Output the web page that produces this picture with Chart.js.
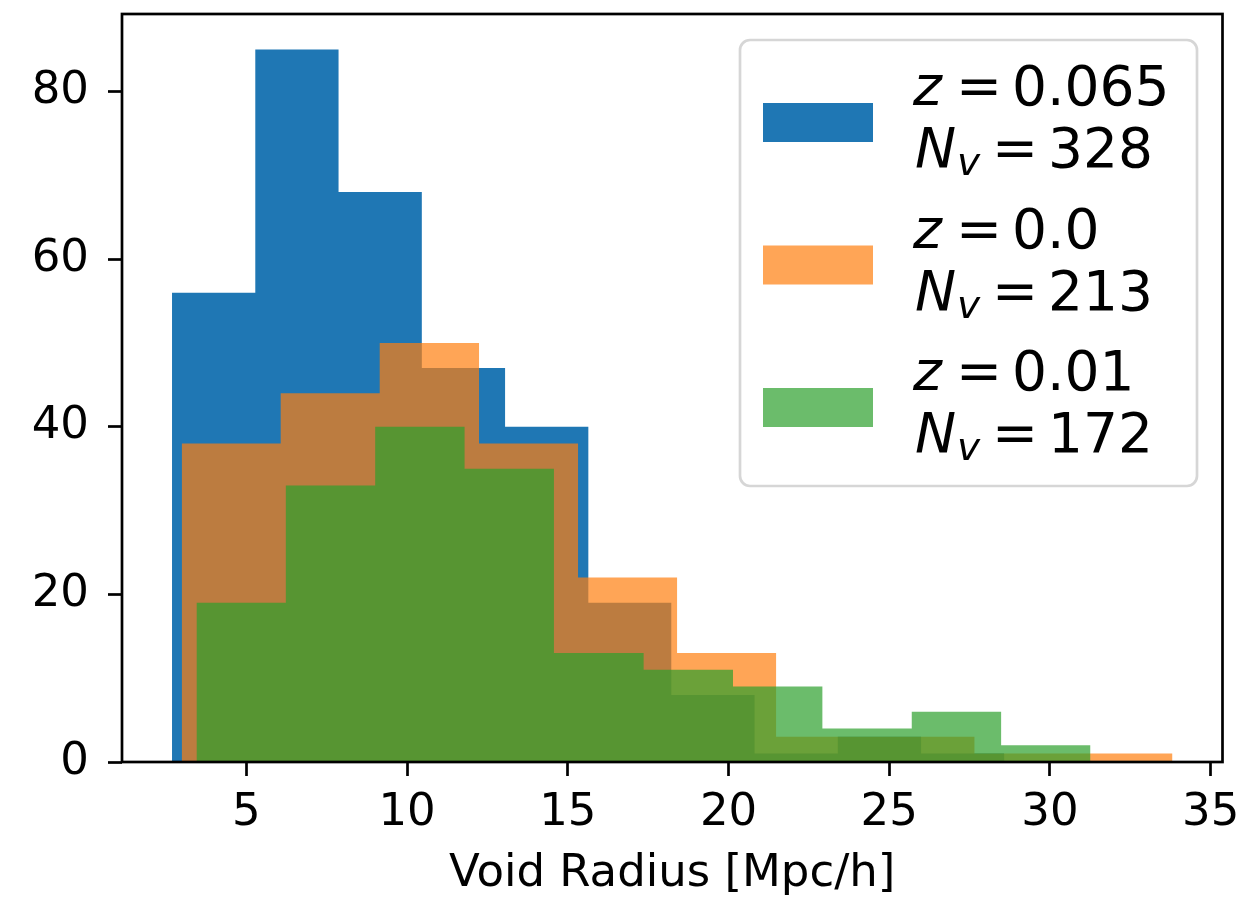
<!DOCTYPE html>
<html>
<head>
<meta charset="utf-8">
<script src="https://cdn.jsdelivr.net/npm/chart.js@4.4.1/dist/chart.umd.min.js"></script>
<style>
  html, body { margin: 0; padding: 0; background: #fff; }
  #wrap { width: 1246px; height: 905px; }
</style>
</head>
<body>
<div id="wrap"><canvas id="hist"></canvas></div>
<script>
// histogram bins (edges in Mpc/h, counts per bin)
const blueEdges = [2.69, 5.28, 7.87, 10.46, 13.05, 15.64, 18.22, 20.81, 23.40, 25.99, 28.58];
const blueCounts = [56, 85, 68, 47, 40, 19, 8, 1, 3, 1];

const orangeEdges = [2.99, 6.07, 9.15, 12.24, 15.32, 18.40, 21.48, 24.56, 27.65, 30.73, 33.81];
const orangeCounts = [38, 44, 50, 38, 22, 13, 3, 3, 1, 1];

const greenEdges = [3.45, 6.23, 9.01, 11.79, 14.57, 17.36, 20.14, 22.92, 25.70, 28.48, 31.26];
const greenCounts = [19, 33, 40, 35, 13, 11, 9, 4, 6, 2];

const xTicks = [5, 10, 15, 20, 25, 30, 35];
const yTicks = [0, 20, 40, 60, 80];

const legendZ = ["0.065", "0.0", "0.01"];
const legendN = ["328", "213", "172"];

const BLUE = "#1f77b4";
const ORANGE = "rgba(255,127,14,0.7)";
const GREEN = "rgba(44,160,44,0.7)";
const FONT = "'DejaVu Sans', sans-serif";

// turn edges + counts into a closed step outline
function steps(edges, counts) {
  const pts = [{ x: edges[0], y: 0 }];
  counts.forEach((c, i) => pts.push({ x: edges[i], y: c }));
  pts.push({ x: edges[edges.length - 1], y: counts[counts.length - 1] });
  pts.push({ x: edges[edges.length - 1], y: 0 });
  return pts;
}

// matplotlib style 5% margins on x, 5% headroom on y
const allEdges = blueEdges.concat(orangeEdges, greenEdges);
const lo = Math.min(...allEdges);
const hi = Math.max(...allEdges);
const xMin = lo - 0.05 * (hi - lo);
const xMax = hi + 0.05 * (hi - lo);
const yMax = 1.05 * Math.max(...blueCounts, ...orangeCounts, ...greenCounts);

function histSet(label, edges, counts, color, order) {
  return {
    label: label,
    data: steps(edges, counts),
    stepped: true,
    fill: "origin",
    backgroundColor: color,
    borderColor: "rgba(0,0,0,0)",
    borderWidth: 0,
    pointRadius: 0,
    pointHoverRadius: 0,
    tension: 0,
    order: order,
  };
}

// no extra room for overhanging tick labels, the frame is fixed by padding
function noOverhang(s) {
  s.paddingTop = 0;
  s.paddingBottom = 0;
  s.paddingLeft = 0;
  s.paddingRight = 0;
}

const spines = {
  id: "spines",
  afterDatasetsDraw(chart) {
    const { ctx, chartArea: a } = chart;
    ctx.save();
    ctx.strokeStyle = "#000";
    ctx.lineWidth = 2.7;
    ctx.strokeRect(a.left, a.top, a.right - a.left, a.bottom - a.top);
    ctx.restore();
  },
};

const mathLegend = {
  id: "mathLegend",
  afterDraw(chart) {
    const { ctx, chartArea: a } = chart;
    const boxW = 457;
    const boxH = 446;
    const bx = a.right - 25.5 - boxW;
    const by = a.top + 26;
    const colors = [BLUE, ORANGE, GREEN];

    ctx.save();
    ctx.beginPath();
    ctx.roundRect(bx, by, boxW, boxH, 10);
    ctx.fillStyle = "rgba(255,255,255,0.8)";
    ctx.fill();
    ctx.lineWidth = 2.7;
    ctx.strokeStyle = "#d6d6d6";
    ctx.stroke();

    ctx.textBaseline = "alphabetic";
    ctx.textAlign = "left";

    for (let i = 0; i < 3; i++) {
      const oy = by + i * 142.5;
      ctx.fillStyle = colors[i];
      ctx.fillRect(bx + 23, oy + 63, 110, 39);

      ctx.fillStyle = "#000";
      const b1 = oy + 65;
      const b2 = oy + 127;

      ctx.font = "italic 55px " + FONT;
      ctx.fillText("z", bx + 173, b1);
      ctx.font = "55px " + FONT;
      ctx.fillText("=", bx + 216, b1);
      ctx.fillText(legendZ[i], bx + 272, b1);

      ctx.font = "italic 55px " + FONT;
      ctx.fillText("N", bx + 175, b2);
      ctx.font = "italic 39px " + FONT;
      ctx.fillText("v", bx + 217, b2 + 8);
      ctx.font = "55px " + FONT;
      ctx.fillText("=", bx + 252, b2);
      ctx.fillText(legendN[i], bx + 308, b2);
    }
    ctx.restore();
  },
};

new Chart(document.getElementById("hist"), {
  type: "line",
  data: {
    datasets: [
      histSet("z = 0.065", blueEdges, blueCounts, BLUE, 3),
      histSet("z = 0.0", orangeEdges, orangeCounts, ORANGE, 2),
      histSet("z = 0.01", greenEdges, greenCounts, GREEN, 1),
    ],
  },
  options: {
    responsive: true,
    maintainAspectRatio: false,
    animation: false,
    layout: {
      padding: { left: 0, right: 23.5, top: 14, bottom: 0 },
    },
    plugins: {
      legend: { display: false },
      tooltip: { enabled: false },
    },
    scales: {
      x: {
        type: "linear",
        min: xMin,
        max: xMax,
        afterBuildTicks: (s) => {
          s.ticks = xTicks.map((v) => ({ value: v }));
        },
        afterFit: (s) => {
          s.height = 143;
          noOverhang(s);
        },
        grid: {
          drawOnChartArea: false,
          drawTicks: true,
          tickLength: 14,
          tickWidth: 2.7,
          tickColor: "#000",
        },
        border: { display: false },
        ticks: {
          color: "#000",
          padding: 10,
          maxRotation: 0,
          autoSkip: false,
          font: { family: FONT, size: 45 },
        },
        title: {
          display: true,
          text: "Void Radius [Mpc/h]",
          color: "#000",
          font: { family: FONT, size: 45 },
          padding: { top: 0, bottom: 4 },
        },
      },
      y: {
        min: 0,
        max: yMax,
        afterBuildTicks: (s) => {
          s.ticks = yTicks.map((v) => ({ value: v }));
        },
        afterFit: (s) => {
          s.width = 122;
          noOverhang(s);
        },
        grid: {
          drawOnChartArea: false,
          drawTicks: true,
          tickLength: 14,
          tickWidth: 2.7,
          tickColor: "#000",
        },
        border: { display: false },
        ticks: {
          color: "#000",
          padding: 19,
          font: { family: FONT, size: 45 },
        },
      },
    },
  },
  plugins: [spines, mathLegend],
});
</script>
</body>
</html>
